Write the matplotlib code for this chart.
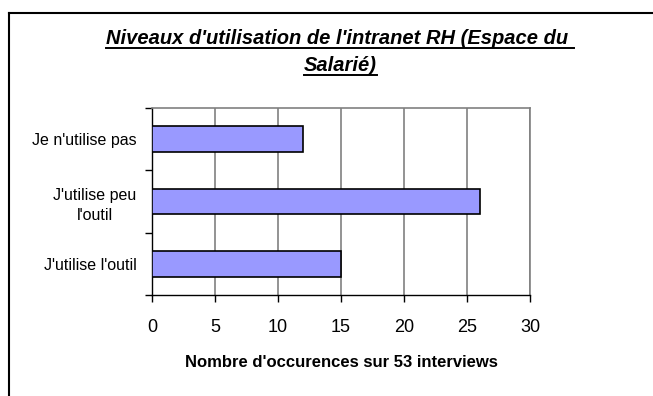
import matplotlib.pyplot as plt
from matplotlib.lines import Line2D

categories = ["J'utilise l'outil", "J'utilise peu\nl'outil", "Je n'utilise pas"]
counts = [15, 26, 12]
xticks = [0, 5, 10, 15, 20, 25, 30]

plt.rcParams['font.family'] = ['Liberation Sans', 'DejaVu Sans']

fig = plt.figure(figsize=(6.53, 3.96), dpi=100)
ax = fig.add_axes([152 / 653, 1 - 295 / 396, (530 - 152) / 653, (295 - 108) / 396])

ax.barh(range(len(categories)), counts, height=0.41,
        color='#9999FF', edgecolor='black', linewidth=1.2, zorder=3)

ax.set_xlim(0, 30)
ax.set_ylim(-0.5, len(categories) - 0.5)
ax.set_xticks(xticks)
ax.set_xticklabels([str(t) for t in xticks], fontsize=13)
ax.xaxis.grid(True, color='#808080', linewidth=1.2, zorder=0)

# category labels sit between the boundary ticks
ax.set_yticks([i for i in range(len(categories))])
ax.set_yticklabels(categories, fontsize=11.5, multialignment='center',
                   linespacing=1.45)
ax.tick_params(axis='y', length=0, pad=11)
ax.set_yticks([i - 0.5 for i in range(len(categories) + 1)], minor=True)
ax.tick_params(axis='y', which='minor', length=5, width=1, direction='out')
ax.tick_params(axis='x', length=5, width=1, direction='out', pad=12)

for side in ['top', 'right']:
    ax.spines[side].set_color('#808080')
    ax.spines[side].set_linewidth(1.2)
ax.spines['left'].set_linewidth(1)
ax.spines['bottom'].set_linewidth(1)

ax.set_xlabel("Nombre d'occurences sur 53 interviews", fontsize=12,
              fontweight='bold', labelpad=14)

# frame around the chart (left and top edges)
fig.add_artist(Line2D([8.5 / 653, 8.5 / 653], [0, 1 - 13 / 396],
                      color='black', linewidth=1.5, transform=fig.transFigure))
fig.add_artist(Line2D([8.5 / 653, 1], [1 - 13 / 396, 1 - 13 / 396],
                      color='black', linewidth=1.5, transform=fig.transFigure))

# underlined two-line title
title_lines = ["Niveaux d'utilisation de l'intranet RH (Espace du ", "Salarié)"]
title_y = [44, 71]
fig.canvas.draw()
renderer = fig.canvas.get_renderer()
for line, ypx in zip(title_lines, title_y):
    t = fig.text(340 / 653, 1 - ypx / 396, line, ha='center', va='baseline',
                 fontsize=14.5, fontstyle='italic', fontweight='bold')
    bb = t.get_window_extent(renderer=renderer)
    yl = 1 - (ypx + 4) / 396
    fig.add_artist(Line2D([bb.x0 / 653, bb.x1 / 653], [yl, yl], color='black',
                          linewidth=1.4, transform=fig.transFigure))

fig.savefig('out.png', dpi=100)
